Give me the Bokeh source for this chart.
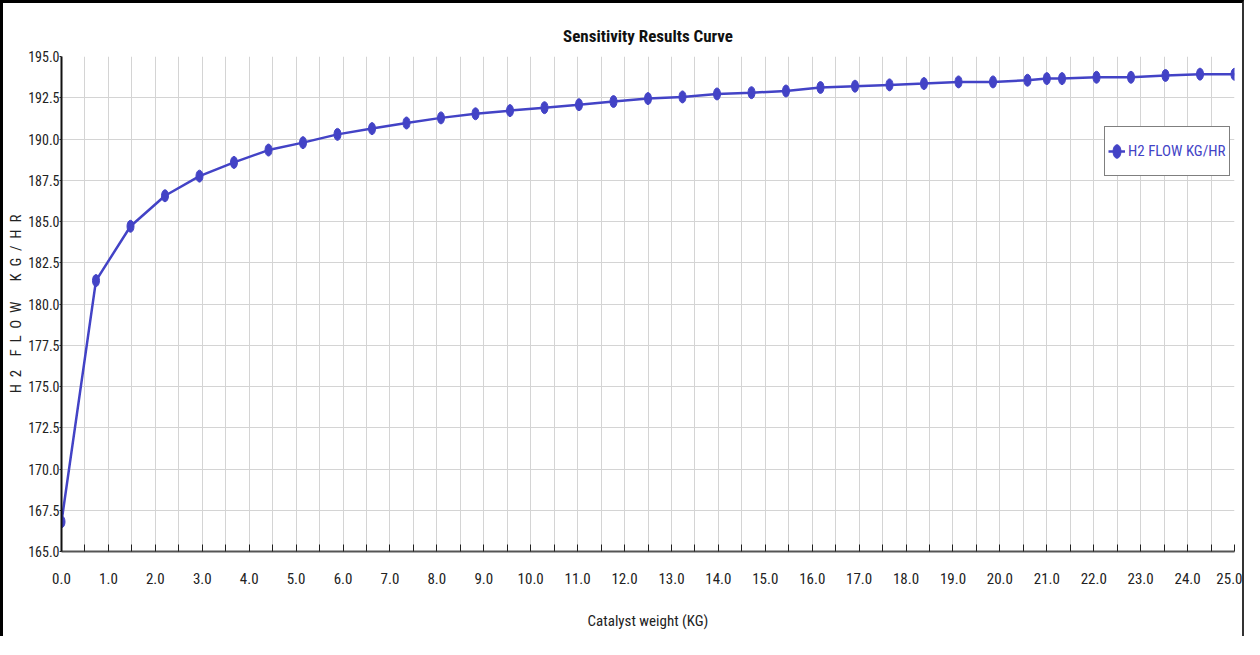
from bokeh.plotting import figure
from bokeh.models import Range1d, FixedTicker, Legend, LegendItem, ColumnDataSource
from bokeh.embed import file_html
from bokeh.resources import INLINE

# ---- data ----
catalyst_kg = [0.0, 0.735, 1.471, 2.206, 2.941, 3.676, 4.412, 5.147, 5.882, 6.618,
               7.353, 8.088, 8.824, 9.559, 10.294, 11.029, 11.765, 12.5, 13.235, 13.971,
               14.706, 15.441, 16.176, 16.912, 17.647, 18.382, 19.118, 19.853, 20.588, 21.0,
               21.324, 22.059, 22.794, 23.529, 24.265, 25.0]
h2_flow = [166.8, 181.42, 184.71, 186.56, 187.75, 188.58, 189.33, 189.78, 190.28, 190.63,
           190.97, 191.28, 191.53, 191.72, 191.90, 192.08, 192.27, 192.45, 192.55, 192.73,
           192.81, 192.91, 193.12, 193.20, 193.28, 193.36, 193.46, 193.46, 193.56, 193.66,
           193.66, 193.74, 193.74, 193.85, 193.93, 193.92]

x_tick_values = [0, 1, 2, 3, 4, 5, 6, 7, 8, 9, 10, 11, 12, 13, 14, 15, 16, 17, 18, 19,
                 20, 21, 22, 23, 24, 25]
x_tick_labels = ["0.0", "1.0", "2.0", "3.0", "4.0", "5.0", "6.0", "7.0", "8.0", "9.0",
                 "10.0", "11.0", "12.0", "13.0", "14.0", "15.0", "16.0", "17.0", "18.0",
                 "19.0", "20.0", "21.0", "22.0", "23.0", "24.0", "25.0"]
x_minor_ticks = [0.5, 1.5, 2.5, 3.5, 4.5, 5.5, 6.5, 7.5, 8.5, 9.5, 10.5, 11.5, 12.5,
                 13.5, 14.5, 15.5, 16.5, 17.5, 18.5, 19.5, 20.5, 21.5, 22.5, 23.5, 24.5]
y_tick_values = [165.0, 167.5, 170.0, 172.5, 175.0, 177.5, 180.0, 182.5, 185.0, 187.5,
                 190.0, 192.5, 195.0]
y_tick_labels = ["165.0", "167.5", "170.0", "172.5", "175.0", "177.5", "180.0", "182.5",
                 "185.0", "187.5", "190.0", "192.5", "195.0"]

series_name = "H2 FLOW KG/HR"
title_text = "Sensitivity Results Curve"
x_title = "Catalyst weight (KG)"
SP = "\u2002"
y_title = SP.join(["H", "2"]) + SP * 2 + SP.join(["F", "L", "O", "W"]) + SP * 3 + \
    SP.join(["K", "G", "/", "H", "R"])

FONT = "Roboto Condensed"
BLUE = "#4343C6"
GRID = "#d4d4d4"

src = ColumnDataSource(data=dict(x=catalyst_kg, y=h2_flow))

p = figure(width=1244, height=636, x_range=Range1d(0, 25), y_range=Range1d(165, 195),
           output_backend="svg", toolbar_location=None, title=title_text,
           min_border_left=58, min_border_right=13, min_border_top=53, min_border_bottom=88)
p.styles = {"border-left": "3px solid #000", "border-top": "3px solid #000",
            "border-right": "2px solid #333"}
p.outline_line_color = None
p.background_fill_color = "white"
p.border_fill_color = "white"

p.title.align = "center"
p.title.text_font = FONT
p.title.text_font_size = "17px"
p.title.text_font_style = "bold"
p.title.text_color = "#111111"
p.title.standoff = 22

xt = FixedTicker(ticks=x_tick_values, minor_ticks=x_minor_ticks)
p.xaxis.ticker = xt
p.xaxis.major_label_overrides = dict(zip(x_tick_values, x_tick_labels))
p.xaxis.major_tick_in = 7
p.xaxis.major_tick_out = 0
p.xaxis.minor_tick_in = 7
p.xaxis.minor_tick_out = 0
p.xaxis.major_tick_line_color = "#222222"
p.xaxis.minor_tick_line_color = "#222222"
p.xaxis.axis_line_color = "#555555"
p.xaxis.axis_line_width = 2
p.xaxis.major_label_standoff = 21
p.xaxis.major_label_text_font = FONT
p.xaxis.major_label_text_font_size = "15px"
p.xaxis.major_label_text_color = "#222222"
p.xaxis.axis_label = x_title
p.xaxis.axis_label_standoff = 25
p.xaxis.axis_label_text_font = FONT
p.xaxis.axis_label_text_font_size = "15px"
p.xaxis.axis_label_text_font_style = "normal"
p.xaxis.axis_label_text_color = "#222222"

yt = FixedTicker(ticks=y_tick_values)
p.yaxis.ticker = yt
p.yaxis.major_label_overrides = dict(zip(y_tick_values, y_tick_labels))
p.yaxis.major_tick_in = 0
p.yaxis.major_tick_out = 2
p.yaxis.minor_tick_line_color = None
p.yaxis.major_tick_line_color = "#222222"
p.yaxis.axis_line_color = "#111111"
p.yaxis.axis_line_width = 2
p.yaxis.major_label_standoff = 0
p.yaxis.major_label_text_font = FONT
p.yaxis.major_label_text_font_size = "14px"
p.yaxis.major_label_text_color = "#222222"
p.yaxis.axis_label = y_title
p.yaxis.axis_label_standoff = 0
p.yaxis.axis_label_text_font = FONT
p.yaxis.axis_label_text_font_size = "15px"
p.yaxis.axis_label_text_font_style = "normal"
p.yaxis.axis_label_text_color = "#222222"

p.xgrid.ticker = xt
p.xgrid.grid_line_color = GRID
p.xgrid.minor_grid_line_color = GRID
p.ygrid.ticker = yt
p.ygrid.grid_line_color = GRID

line_r = p.line("x", "y", source=src, line_color=BLUE, line_width=2.5)
ell_r = p.ellipse("x", "y", source=src, width=7, height=12, width_units="screen",
                  height_units="screen", fill_color=BLUE, line_color=BLUE)

legend = Legend(items=[LegendItem(label=series_name, renderers=[line_r, ell_r])],
                location=(1043, 375))
legend.border_line_color = "#000000"
legend.border_line_width = 1
legend.background_fill_color = "white"
legend.background_fill_alpha = 1
legend.label_text_color = BLUE
legend.label_text_font = FONT
legend.label_text_font_size = "15px"
legend.padding = 3
legend.spacing = 0
legend.margin = 0
legend.glyph_width = 17
legend.glyph_height = 42
legend.label_height = 42
legend.label_standoff = 3
p.add_layout(legend, "center")

open("out.html", "w").write(file_html(p, INLINE))
